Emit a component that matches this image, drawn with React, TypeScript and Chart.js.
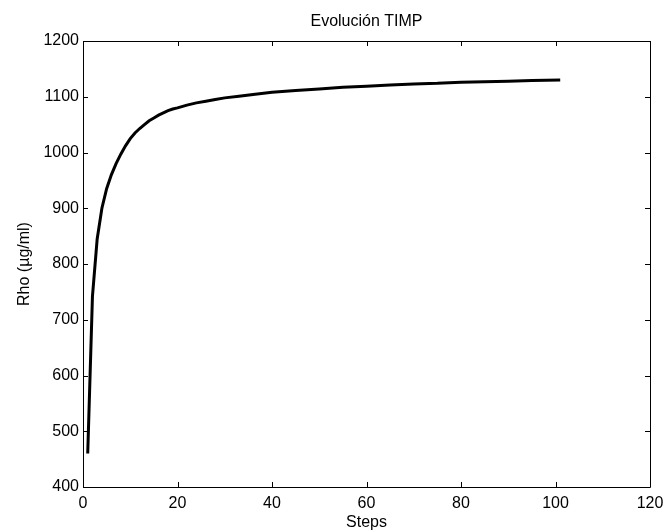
import React, { useEffect, useRef } from "react";
import { Chart, registerables } from "chart.js";

Chart.register(...registerables);

const titleText = "Evolución TIMP";
const xTitle = "Steps";
const yTitle = "Rho (µg/ml)";

const steps = [1, 2, 3, 4, 5, 6, 7, 8, 9, 10, 11, 12, 13, 14, 15, 16, 17, 18, 19, 20, 22, 24, 26, 28, 30, 33, 36, 40, 45, 50, 55, 60, 65, 70, 75, 80, 85, 90, 95, 101];
const rho = [460, 742, 845, 900, 935, 960, 980, 997, 1012, 1025, 1035, 1043, 1050, 1057, 1062, 1067, 1071, 1075, 1078, 1080, 1085, 1089, 1092, 1095, 1098, 1101, 1104, 1108, 1111, 1114, 1117, 1119, 1121, 1123, 1124, 1126, 1127, 1128, 1129, 1130];

const xTicks = [0, 20, 40, 60, 80, 100, 120];
const yTicks = [400, 500, 600, 700, 800, 900, 1000, 1100, 1200];

const FONT = "Liberation Sans, Arial, sans-serif";
const FS = 16;

const boxPlugin = {
  id: "matlabBox",
  afterDraw(chart: any) {
    const { ctx, chartArea } = chart;
    const { left, right, top, bottom } = chartArea;
    const xs = chart.scales.x;
    const ys = chart.scales.y;
    ctx.save();
    ctx.strokeStyle = "#000";
    ctx.lineWidth = 1;
    ctx.beginPath();
    ctx.rect(Math.round(left) + 0.5, Math.round(top) + 0.5, Math.round(right - left), Math.round(bottom - top));
    ctx.stroke();
    const tl = 5;
    ctx.beginPath();
    for (const v of xTicks) {
      const px = Math.round(xs.getPixelForValue(v)) + 0.5;
      ctx.moveTo(px, bottom);
      ctx.lineTo(px, bottom - tl);
      ctx.moveTo(px, top);
      ctx.lineTo(px, top + tl);
    }
    for (const v of yTicks) {
      const py = Math.round(ys.getPixelForValue(v)) + 0.5;
      ctx.moveTo(left, py);
      ctx.lineTo(left + tl, py);
      ctx.moveTo(right, py);
      ctx.lineTo(right - tl, py);
    }
    ctx.stroke();
    ctx.fillStyle = "#000";
    ctx.font = `${FS}px ${FONT}`;
    ctx.textAlign = "center";
    ctx.textBaseline = "middle";
    ctx.fillText(titleText, (left + right) / 2, 22);
    ctx.restore();
  },
};

export default function App() {
  const ref = useRef<HTMLCanvasElement | null>(null);
  useEffect(() => {
    if (!ref.current) return;
    const chart = new Chart(ref.current, {
      type: "line",
      data: {
        datasets: [
          {
            data: steps.map((s, i) => ({ x: s, y: rho[i] })),
            borderColor: "#000",
            borderWidth: 3,
            pointRadius: 0,
            tension: 0,
            fill: false,
          },
        ],
      },
      options: {
        animation: false,
        responsive: false,
        devicePixelRatio: 1,
        layout: { padding: { left: 0, top: 41, right: 14, bottom: 0 } },
        plugins: { legend: { display: false }, tooltip: { enabled: false }, title: { display: false } },
        scales: {
          x: {
            type: "linear",
            min: 0,
            max: 120,
            afterBuildTicks: (s: any) => {
              s.ticks = xTicks.map((v) => ({ value: v }));
            },
            afterFit: (s: any) => {
              s.height = 45;
              s.paddingLeft = 0;
              s.paddingRight = 0;
            },
            grid: { display: false, drawTicks: false },
            border: { display: false },
            ticks: { color: "#000", font: { family: FONT, size: FS }, padding: 7, maxRotation: 0, autoSkip: false, callback: (v: any) => String(v) },
            title: { display: true, text: xTitle, color: "#000", font: { family: FONT, size: FS }, padding: { top: 0, bottom: 0 } },
          },
          y: {
            type: "linear",
            min: 400,
            max: 1200,
            afterBuildTicks: (s: any) => {
              s.ticks = yTicks.map((v) => ({ value: v }));
            },
            afterFit: (s: any) => {
              s.width = 83;
              s.paddingTop = 0;
              s.paddingBottom = 0;
            },
            grid: { display: false, drawTicks: false },
            border: { display: false },
            ticks: { color: "#000", font: { family: FONT, size: FS }, padding: 4, autoSkip: false, callback: (v: any) => String(v) },
            title: { display: true, text: yTitle, color: "#000", font: { family: FONT, size: FS }, padding: { top: 15, bottom: 0 } },
          },
        },
      },
      plugins: [boxPlugin],
    });
    return () => chart.destroy();
  }, []);
  return (
    <div style={{ position: "fixed", left: 0, top: 0, width: 664, height: 532, background: "#fff" }}>
      <canvas ref={ref} width={664} height={532} style={{ display: "block", width: 664, height: 532 }} />
    </div>
  );
}
